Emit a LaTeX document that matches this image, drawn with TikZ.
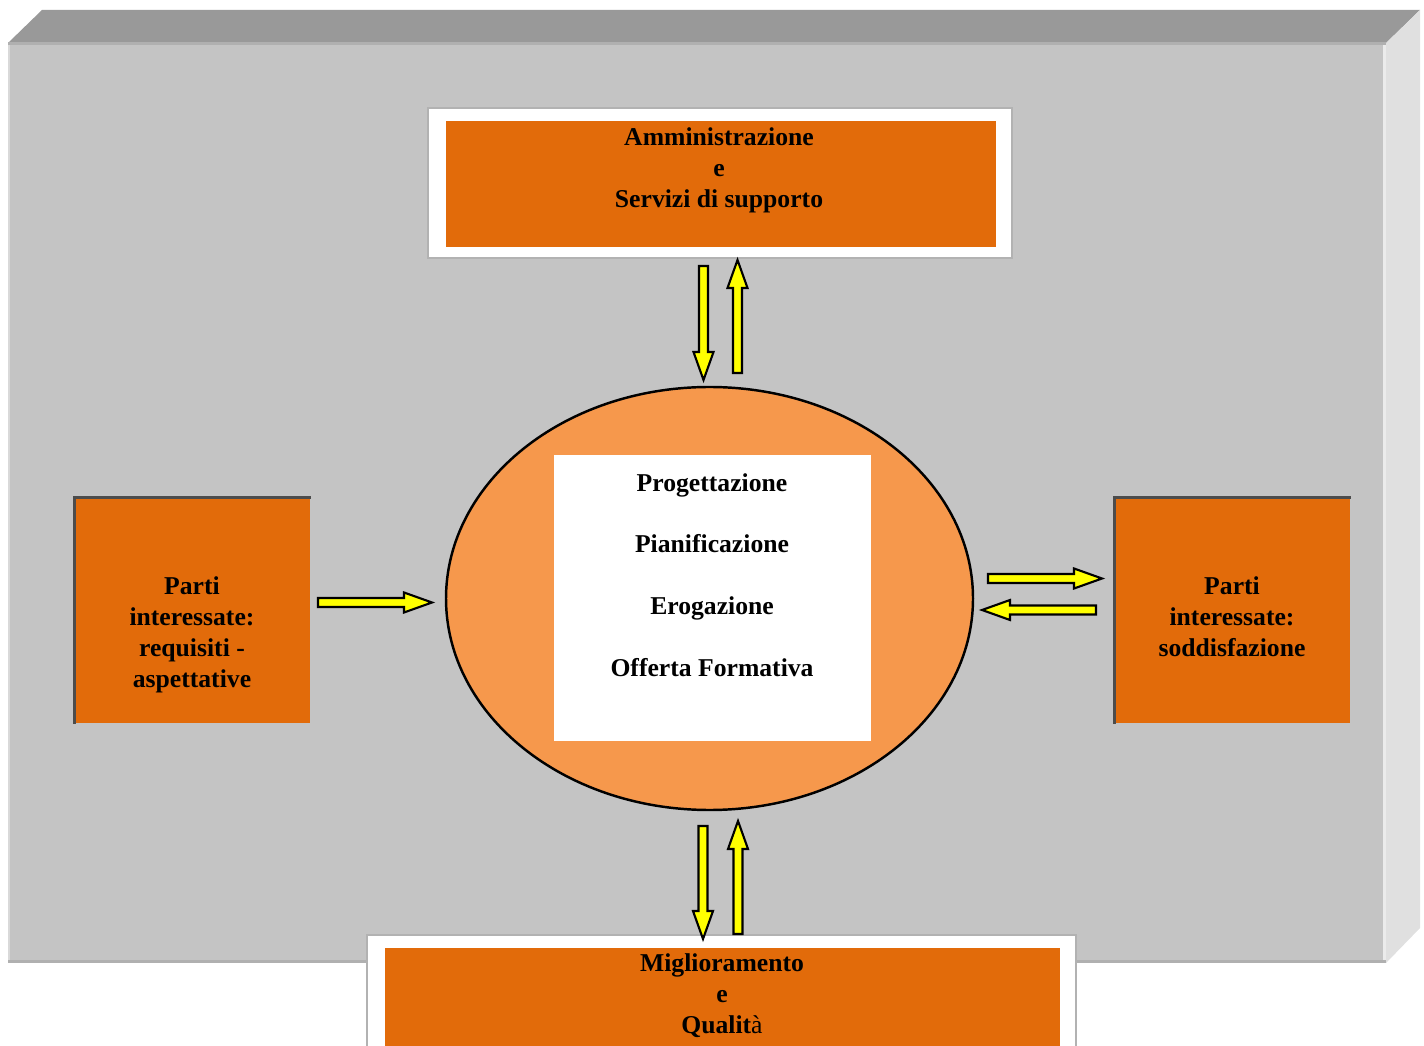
\documentclass[tikz,border=0pt]{standalone}
\usepackage{fontspec}
\setmainfont{Liberation Serif}
\usepackage{tikz}
\usetikzlibrary{calc}
\usetikzlibrary{shapes.geometric}
\usepackage{xcolor}
\definecolor{boxOrange}{RGB}{226, 107, 10}
\definecolor{ringOrange}{RGB}{246, 152, 76}
\definecolor{frontGray}{RGB}{196, 196, 196}
\definecolor{topGray}{RGB}{153, 153, 153}
\definecolor{sideGray}{RGB}{224, 224, 224}
\definecolor{arrowYellow}{RGB}{255, 255, 0}
\tikzset{
    framebox/.style={fill=white, draw=black!30, line width=0.6pt, inner sep=0pt},
    orangebox/.style={fill=boxOrange, draw=none, inner sep=0pt},
    boxtext/.style={font=\fontsize{7.3}{8.8}\selectfont\bfseries, align=center, inner sep=0pt},
    listtext/.style={font=\fontsize{7.3}{17.55}\selectfont\bfseries, align=center, inner sep=0pt},
    blockarr/.style={fill=arrowYellow, draw=black, line width=0.6pt, line join=miter}
}
% block arrow from #1 (tail) to #2 (tip)
\newcommand{\blockarrow}[2]{%
    \coordinate (ba-h) at ($(#2)!0.28cm!(#1)$);
    \draw[blockarr] ($(#1)!0.045cm!90:(#2)$) -- ($(ba-h)!0.045cm!90:(#2)$)
        -- ($(ba-h)!0.10cm!90:(#2)$) -- (#2) -- ($(ba-h)!0.10cm!-90:(#2)$)
        -- ($(ba-h)!0.045cm!-90:(#2)$) -- ($(#1)!0.045cm!-90:(#2)$) -- cycle;
}

\begin{document}
\begin{tikzpicture}
    \useasboundingbox (0,0) rectangle (14.24,-10.46);
    \clip (0,0) rectangle (14.24,-10.46);

    % Draw the 3D panel in the background
    \fill[topGray] (0.08,-0.43) -- (0.42,-0.10) -- (14.20,-0.10) -- (13.86,-0.43) -- cycle;
    \fill[sideGray] (13.86,-0.43) -- (14.20,-0.10) -- (14.20,-9.28) -- (13.86,-9.63) -- cycle;
    \fill[frontGray] (0.08,-0.43) rectangle (13.86,-9.63);
    \fill[black!31] (0.08,-0.42) rectangle (13.86,-0.45);
    \fill[black!31] (0.08,-9.60) rectangle (13.86,-9.63);
    \fill[black!15] (0.08,-0.45) rectangle (0.10,-9.60);
    \fill[black!8] (13.83,-0.45) rectangle (13.86,-9.60);

    % Draw the top box
    \node[framebox, minimum width=5.84cm, minimum height=1.50cm] (adminframe) at (7.20,-1.83) {};
    \node[orangebox, minimum width=5.50cm, minimum height=1.26cm] (admin) at (7.21,-1.84) {};
    \node[boxtext] (admintext) at (7.19,-1.70) {Amministrazione\\e\\Servizi di supporto};

    % Draw the bottom box
    \node[framebox, minimum width=7.09cm, minimum height=1.50cm, anchor=north] (qualframe) at (7.215,-9.34) {};
    \node[orangebox, minimum width=6.75cm, minimum height=1.20cm, anchor=north] (qual) at (7.225,-9.47) {};
    \node[boxtext] (qualtext) at (7.22,-9.955) {Miglioramento\\e\\Qualit{\mdseries à}};

    % Draw the side boxes
    \node[orangebox, minimum width=2.35cm, minimum height=2.25cm] (needs) at (1.925,-6.105) {};
    \draw[black!70, line width=0.8pt] (needs.south west) -- (needs.north west) -- (needs.north east);
    \node[boxtext] (needstext) at (1.92,-6.345) {Parti\\interessate:\\requisiti -\\aspettative};
    \node[orangebox, minimum width=2.35cm, minimum height=2.25cm] (satisf) at (12.325,-6.105) {};
    \draw[black!70, line width=0.8pt] (satisf.south west) -- (satisf.north west) -- (satisf.north east);
    \node[boxtext] (satisftext) at (12.32,-6.165) {Parti\\interessate:\\soddisfazione};

    % Draw the central ellipse with the white panel
    \node[ellipse, fill=ringOrange, draw=black, line width=0.7pt, inner sep=0pt,
          minimum width=5.27cm, minimum height=4.23cm] (core) at (7.095,-5.985) {};
    \node[fill=white, inner sep=0pt, minimum width=3.17cm, minimum height=2.86cm] (coreinfo) at (7.125,-5.98) {};
    \node[listtext] (coretext) at (7.12,-5.75) {Progettazione\\Pianificazione\\Erogazione\\Offerta Formativa};

    % Arrow end points
    \coordinate (a1) at (7.035,-2.66);
    \coordinate (a2) at (7.035,-3.80);
    \coordinate (b1) at (7.375,-3.73);
    \coordinate (b2) at (7.375,-2.60);
    \coordinate (c1) at (7.03,-8.26);
    \coordinate (c2) at (7.03,-9.39);
    \coordinate (d1) at (7.38,-9.34);
    \coordinate (d2) at (7.38,-8.21);
    \coordinate (e1) at (3.18,-6.025);
    \coordinate (e2) at (4.32,-6.025);
    \coordinate (f1) at (9.88,-5.785);
    \coordinate (f2) at (11.02,-5.785);
    \coordinate (g1) at (10.96,-6.10);
    \coordinate (g2) at (9.82,-6.10);

    % Draw the yellow arrows
    \blockarrow{a1}{a2}
    \blockarrow{b1}{b2}
    \blockarrow{c1}{c2}
    \blockarrow{d1}{d2}
    \blockarrow{e1}{e2}
    \blockarrow{f1}{f2}
    \blockarrow{g1}{g2}
\end{tikzpicture}
\end{document}
